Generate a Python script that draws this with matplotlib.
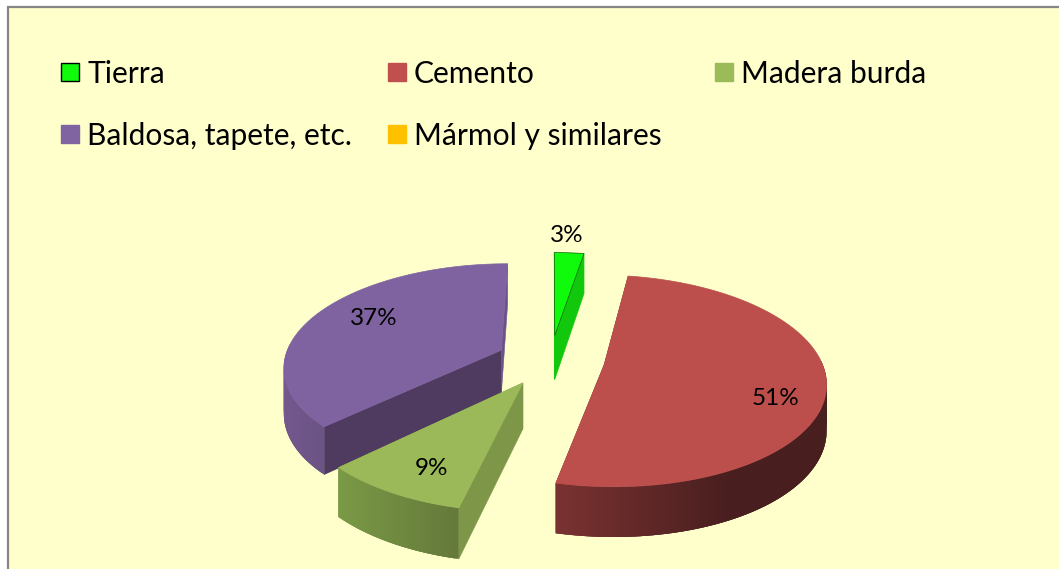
import numpy as np
import matplotlib
matplotlib.use("Agg")
import matplotlib.pyplot as plt
from matplotlib.colors import to_rgb
from matplotlib.patches import Rectangle

plt.rcParams['font.family'] = ['Lato', 'DejaVu Sans']

# datos
categorias = ["Tierra", "Cemento", "Madera burda", "Baldosa, tapete, etc.", "Mármol y similares"]
valores = [2.6, 51.0, 9.2, 37.2, 0.0]

# colores
leyenda_col = ["#10fb0c", "#c0504d", "#9bbb59", "#8064a2", "#ffc000"]
tapa_col = ["#10fb0c", "#bc4f4c", "#9bb959", "#7f63a0", "#ffc000"]
corte_col = ["#12c80c", "#6f2e2d", "#7d9647", "#4f3a60", "#cc9900"]
lado_izq = ["#12c80c", "#7a3231", "#7a9a46", "#72588d", "#cc9900"]
lado_der = ["#12c80c", "#481e1e", "#64793a", "#4f3a60", "#cc9900"]
grad_fin = [1.0, 0.65, 1.0, 1.0, 1.0]

# geometria en pixeles de la imagen
cx, cy = 550.5, 360
R, Rt = 217, 102     # radio horizontal y vertical
p = 0.149            # perspectiva
H = 45               # grosor
explode = 0.25
label_pos = [(567, 235), (776, 398), (431, 468), (374, 318), None]


def proy(X, Y, z=0.0):
    w = 1 + p * Y
    sx = cx + R * X / w
    sy = cy - Rt * Y / w + z * H / (1 + 0.1 * Y)
    return sx, sy


def mezcla(c1, c2, t):
    a, b = np.array(to_rgb(c1)), np.array(to_rgb(c2))
    return tuple(a + (b - a) * t)


fig = plt.figure(figsize=(10.59, 5.69), dpi=100, facecolor="white")
ax = fig.add_axes([0, 0, 1, 1])
ax.set_xlim(0, 1059)
ax.set_ylim(569, 0)
ax.axis("off")

# fondo del grafico
ax.add_patch(Rectangle((8, 6.5), 1100, 600, facecolor="#ffffcc", edgecolor="#868686", lw=1.6))

# leyenda
col_x = [61, 388, 715]
fila_y = [72, 134]
for i, nombre in enumerate(categorias):
    x = col_x[i % 3]
    y = fila_y[i // 3]
    borde = "black" if i == 0 else leyenda_col[i]
    ax.add_patch(Rectangle((x, y - 9), 18, 18, facecolor=leyenda_col[i], edgecolor=borde, lw=1.0))
    ax.text(x + 26, y + 2, nombre, fontsize=21.6, va="center", ha="left", color="black")

# rebanadas
total = sum(valores)
inicio = np.cumsum([0] + valores[:-1]) / total * 2 * np.pi
fin = np.cumsum(valores) / total * 2 * np.pi
orden = [0, 3, 1, 2]   # de atras hacia adelante

for i in orden:
    a0, a1 = inicio[i], fin[i]
    med = (a0 + a1) / 2
    ox, oy = explode * np.sin(med), explode * np.cos(med)
    ang = np.linspace(a0, a1, max(int((a1 - a0) * 120), 8))
    Xs, Ys = ox + np.sin(ang), oy + np.cos(ang)

    # caras de corte
    for a in (a0, a1):
        bx, by = ox + np.sin(a), oy + np.cos(a)
        caras = [proy(ox, oy), proy(bx, by), proy(bx, by, 1), proy(ox, oy, 1)]
        col = corte_col[i]
        if i == 3 and a == a1:
            col = "#6c5289"
        ax.fill(*zip(*caras), facecolor=col, edgecolor=col, lw=0.4)

    # lado exterior con degradado, cada tira pisa a la siguiente para evitar rayas
    sx, sy = proy(Xs, Ys)
    sx2, sy2 = proy(Xs, Ys, 1)
    xmin, xmax = sx.min(), sx.max()
    n = len(ang)
    for j in range(n - 1):
        if np.cos(ang[j]) > 0.05:   # la parte de atras no se ve
            continue
        k = min(j + 3, n - 1)
        t = np.clip((sx[j] - xmin) / (xmax - xmin) / grad_fin[i], 0, 1)
        col = mezcla(lado_izq[i], lado_der[i], t)
        ax.fill(np.r_[sx[j:k + 1], sx2[j:k + 1][::-1]],
                np.r_[sy[j:k + 1], sy2[j:k + 1][::-1]],
                facecolor=col, edgecolor="none", lw=0)

    # tapa
    ax_x, ax_y = proy(ox, oy)
    borde = "#0b5e0b" if i == 0 else tapa_col[i]
    ax.fill(np.r_[ax_x, sx], np.r_[ax_y, sy], facecolor=tapa_col[i], edgecolor=borde,
            lw=0.5, joinstyle="miter")

    ax.text(label_pos[i][0], label_pos[i][1], "%.0f%%" % (valores[i] / total * 100),
            fontsize=17.5, ha="center", va="center", color="black", zorder=5)

fig.savefig("out.png", dpi=100)
